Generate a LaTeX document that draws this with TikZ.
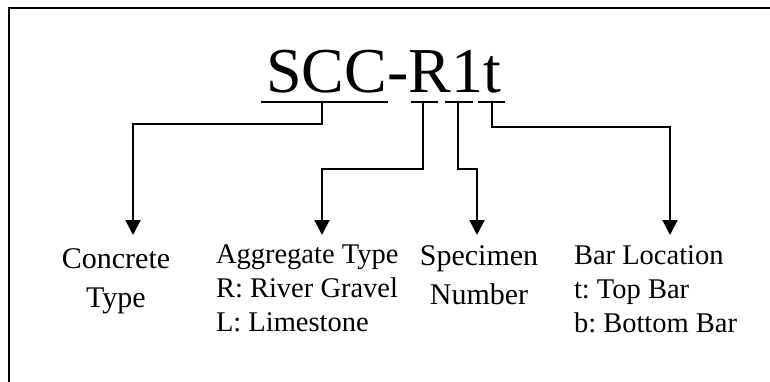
\documentclass[tikz,border=0pt]{standalone}
\usepackage{fontspec}
\setmainfont{Liberation Serif}
\usetikzlibrary{arrows.meta}
\frenchspacing
\begin{document}
\begin{tikzpicture}[x=1pt,y=-1pt,
  frame/.style={line width=1.6pt},
  uline/.style={line width=1.8pt},
  conn/.style={line width=2pt, line join=miter, -{Triangle[width=15pt,length=15pt]}},
  lbl/.style={inner sep=0pt, outer sep=0pt, font=\fontsize{30}{39}\selectfont, align=center, anchor=base},
  lbllist/.style={inner sep=0pt, outer sep=0pt, font=\fontsize{28.5}{34}\selectfont, align=left, anchor=base west}]
\useasboundingbox (0,0) rectangle (770,382);

% outer frame (only its top and left edges fall inside the page)
\draw[frame] (9,382) |- (770,8);

% designation code
\node[inner sep=0pt, anchor=base west, font=\fontsize{64}{70}\selectfont] (code) at (266,93) {SCC-R1t};

% underlines beneath the parts of the code
\draw[uline] (261,102) -- (388,102);
\draw[uline] (411,102) -- (438,102);
\draw[uline] (445,102) -- (473,102);
\draw[uline] (478,102) -- (505,102);

% tick points on the underlines
\coordinate (uscc) at (322,102);
\coordinate (ur)   at (423,102);
\coordinate (uone) at (458,102);
\coordinate (ut)   at (492,102);

% explanation labels (placed by the baseline of their last line)
\node[lbl] (concrete) at (116,307) {Concrete\\Type};
\node[lbllist] (aggregate) at (216,331) {Aggregate Type\\R: River Gravel\\L: Limestone};
\node[lbl] (specimen) at (479,304) {Specimen\\Number};
\node[lbllist] (bar) at (574,332) {Bar Location\\t: Top Bar\\b: Bottom Bar};

% arrow tips just above the labels
\coordinate (tconc) at (133,235);
\coordinate (taggr) at (322,235);
\coordinate (tspec) at (477,235);
\coordinate (tbar)  at (670,235);

% connectors
\draw[conn] (uscc) -- (uscc |- 0,124) -| (tconc);
\draw[conn] (ur) -- (ur |- 0,169) -| (taggr);
\draw[conn] (uone) -- (uone |- 0,169) -| (tspec);
\draw[conn] (ut) -- (ut |- 0,127) -| (tbar);
\end{tikzpicture}
\end{document}
